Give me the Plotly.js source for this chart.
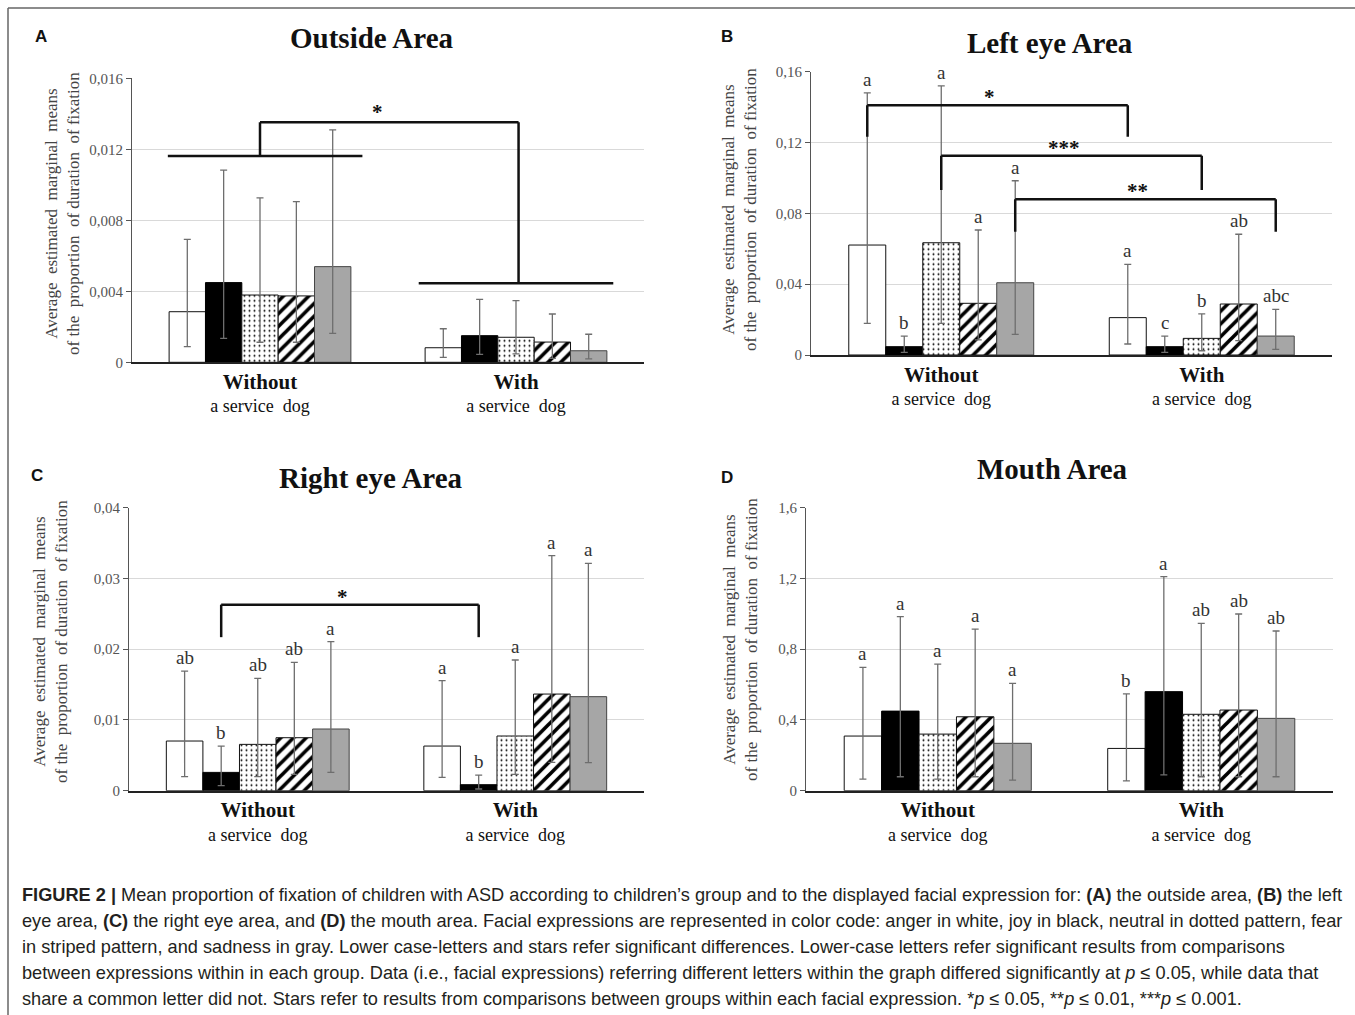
<!DOCTYPE html>
<html><head><meta charset="utf-8">
<script src="https://cdn.plot.ly/plotly-3.0.1.min.js"></script>
<style>html,body{margin:0;padding:0;background:#fff}#chart{width:1355px;height:1015px}</style>
</head><body><div id="chart"></div>
<script>
// ---------- DATA ----------
const groupLabels = ['<b><span style="font-size:21px">Without</span></b><br>a service\u00a0 dog', '<b><span style="font-size:21px">With</span></b><br>a service\u00a0 dog'];
const expressions = ['Anger', 'Joy', 'Neutral', 'Fear', 'Sadness'];

// each row: one expression, [without, with]
const outsideMean  = [[0.00285,0.00082],[0.00449,0.00150],[0.00379,0.00141],[0.00374,0.00114],[0.00539,0.00065]];
const outsideUpper = [[0.00693,0.00189],[0.01083,0.00355],[0.00926,0.00347],[0.00905,0.00272],[0.01309,0.00158]];
const outsideLower = [[0.00088,0.00028],[0.00135,0.00045],[0.00113,0.00047],[0.00113,0.00022],[0.00163,0.00019]];

const leftMean  = [[0.0621,0.0211],[0.0047,0.0047],[0.0634,0.0094],[0.0292,0.0288],[0.0408,0.0107]];
const leftUpper = [[0.148,0.0512],[0.0107,0.0107],[0.152,0.0232],[0.0706,0.0682],[0.0984,0.0258]];
const leftLower = [[0.0179,0.0062],[0.0015,0.0015],[0.0179,0.0024],[0.0085,0.0081],[0.0117,0.0032]];
const leftLetters = [['a','a'],['b','c'],['a','b'],['a','ab'],['a','abc']];

const rightMean  = [[0.00702,0.00631],[0.00259,0.00085],[0.00655,0.00773],[0.00749,0.01366],[0.00872,0.01329]];
const rightUpper = [[0.01691,0.01555],[0.00631,0.00221],[0.01588,0.01847],[0.01814,0.03322],[0.02106,0.03213]];
const rightLower = [[0.00198,0.00188],[0.00071,0.00024],[0.00198,0.00231],[0.00231,0.00400],[0.00259,0.00396]];
const rightLetters = [['ab','a'],['b','b'],['ab','a'],['ab','a'],['a','a']];

const mouthMean  = [[0.309,0.239],[0.450,0.560],[0.320,0.432],[0.418,0.456],[0.268,0.409]];
const mouthUpper = [[0.697,0.547],[0.984,1.210],[0.716,0.946],[0.914,0.999],[0.607,0.903]];
const mouthLower = [[0.066,0.055],[0.079,0.089],[0.066,0.079],[0.079,0.079],[0.060,0.079]];
const mouthLetters = [['a','b'],['a','a'],['a','ab'],['a','ab'],['a','ab']];

// significance brackets: [stars, from expression index, to expression index, bottom, top]
const leftBrackets  = [['*', 0, 0, 0.1233, 0.141], ['***', 2, 2, 0.0932, 0.1126], ['**', 4, 4, 0.0696, 0.0879]];
const rightBrackets = [['*', 1, 1, 0.0217, 0.0263]];
// outside area: group-level comparison [stars, withoutLevel, top, withLevel]
const outsideGroupBracket = ['*', 0.01162, 0.01352, 0.00445];

const yTicksOutside = [0, 0.004, 0.008, 0.012, 0.016];
const yTicksLeft = [0, 0.04, 0.08, 0.12, 0.16];
const yTicksRight = [0, 0.01, 0.02, 0.03, 0.04];
const yTicksMouth = [0, 0.4, 0.8, 1.2, 1.6];

const panelTitles = ['Outside Area', 'Left eye Area', 'Right eye Area', 'Mouth Area'];
const panelLetters = ['A', 'B', 'C', 'D'];
const yTitle = 'Average\u00a0 estimated\u00a0 marginal\u00a0 means<br>of the\u00a0 proportion\u00a0 of duration\u00a0 of fixation';

const captionLines = [
  '<b>FIGURE 2 |</b> Mean proportion of fixation of children with ASD according to children’s group and to the displayed facial expression for: <b>(A)</b> the outside area, <b>(B)</b> the left',
  'eye area, <b>(C)</b> the right eye area, and <b>(D)</b> the mouth area. Facial expressions are represented in color code: anger in white, joy in black, neutral in dotted pattern, fear',
  'in striped pattern, and sadness in gray. Lower case-letters and stars refer significant differences. Lower-case letters refer significant results from comparisons',
  'between expressions within in each group. Data (i.e., facial expressions) referring different letters within the graph differed significantly at <i>p</i> ≤ 0.05, while data that',
  'share a common letter did not. Stars refer to results from comparisons between groups within each facial expression. *<i>p</i> ≤ 0.05, **<i>p</i> ≤ 0.01, ***<i>p</i> ≤ 0.001.'
];

// ---------- LAYOUT GEOMETRY (pixels) ----------
const W = 1355, H = 1015;
const px = v => v / W, py = v => 1 - v / H;
const panels = [
  {x0: 132, x1: 644, yTop: 78.3, yBot: 362.3, mean: outsideMean, up: outsideUpper, low: outsideLower, letters: null, ticks: yTicksOutside,
   title: [371, 38], label: [41, 36], ytitle: [62, 214]},
  {x0: 811, x1: 1332, yTop: 71.7, yBot: 355, mean: leftMean, up: leftUpper, low: leftLower, letters: leftLetters, ticks: yTicksLeft,
   title: [1050, 43], label: [727, 36], ytitle: [740, 210]},
  {x0: 129, x1: 644, yTop: 507.7, yBot: 790.7, mean: rightMean, up: rightUpper, low: rightLower, letters: rightLetters, ticks: yTicksRight,
   title: [371, 478], label: [37, 475], ytitle: [50, 642]},
  {x0: 806, x1: 1333, yTop: 507.7, yBot: 790.7, mean: mouthMean, up: mouthUpper, low: mouthLower, letters: mouthLetters, ticks: yTicksMouth,
   title: [1052, 469], label: [727, 478], ytitle: [740, 640]}
];

const fills = [
  {color: '#ffffff', line: '#111', pattern: {shape: ''}},
  {color: '#000000', line: '#000', pattern: {shape: ''}},
  {color: '#ffffff', line: '#111', pattern: {shape: '.', fgcolor: '#000', bgcolor: '#fff', size: 5, solidity: 0.12}},
  {color: '#ffffff', line: '#111', pattern: {shape: '/', fgcolor: '#000', bgcolor: '#fff', size: 9, solidity: 0.4}},
  {color: '#a6a6a6', line: '#444', pattern: {shape: ''}}
];
const BARGAP = 0.29;
const slot = (1 - BARGAP) / 5;
const offset = i => (i - 2) * slot;

const serif = 'Liberation Serif, Times New Roman, serif';
const traces = [], shapes = [], annotations = [];
const layout = {
  width: W, height: H, margin: {l: 0, r: 0, t: 0, b: 0},
  paper_bgcolor: '#fff', plot_bgcolor: '#fff',
  separators: ',.', barmode: 'group', bargap: BARGAP, bargroupgap: 0,
  showlegend: false, font: {family: serif, color: '#222'}
};

panels.forEach((p, k) => {
  const n = k + 1;
  const xa = 'x' + (n === 1 ? '' : n), ya = 'y' + (n === 1 ? '' : n);
  const xkey = 'xaxis' + (n === 1 ? '' : n), ykey = 'yaxis' + (n === 1 ? '' : n);
  layout[xkey] = {
    domain: [px(p.x0), px(p.x1)], anchor: ya, type: 'category',
    categoryorder: 'array', categoryarray: groupLabels, range: [-0.5, 1.5],
    showline: true, linecolor: '#222', linewidth: 2, ticks: '', showgrid: false,
    tickfont: {family: serif, size: 18, color: '#111'}, ticklabelstandoff: 3
  };
  layout[ykey] = {
    domain: [py(p.yBot), py(p.yTop)], anchor: xa,
    range: [0, p.ticks[p.ticks.length - 1]], tickvals: p.ticks,
    showline: true, linecolor: '#555', linewidth: 1, ticks: 'outside', ticklen: 5, tickcolor: '#555',
    showgrid: true, gridcolor: '#d9d9d9', gridwidth: 1, zeroline: false,
    tickfont: {family: serif, size: 15, color: '#555'}
  };
  expressions.forEach((e, i) => {
    const m = p.mean[i];
    traces.push({
      type: 'bar', name: e, x: groupLabels, y: m, xaxis: xa, yaxis: ya,
      marker: {color: fills[i].color, line: {color: fills[i].line, width: 1}, pattern: fills[i].pattern},
      error_y: {type: 'data', symmetric: false,
        array: m.map((v, j) => p.up[i][j] - v), arrayminus: m.map((v, j) => v - p.low[i][j]),
        color: '#6e6e6e', thickness: 1.3, width: 3.5},
      hoverinfo: 'skip'
    });
    if (p.letters) {
      p.letters[i].forEach((t, j) => {
        annotations.push({xref: xa, yref: ya, x: j + offset(i), y: p.up[i][j], text: t,
          showarrow: false, yanchor: 'bottom', yshift: 1, font: {family: serif, size: 19, color: '#333'}});
      });
    }
  });
  annotations.push({xref: 'paper', yref: 'paper', x: px(p.title[0]), y: py(p.title[1]), text: '<b>' + panelTitles[k] + '</b>',
    showarrow: false, xanchor: 'center', yanchor: 'middle', font: {family: serif, size: 29, color: '#111'}});
  annotations.push({xref: 'paper', yref: 'paper', x: px(p.label[0]), y: py(p.label[1]), text: '<b>' + panelLetters[k] + '</b>',
    showarrow: false, xanchor: 'center', yanchor: 'middle', font: {family: 'Liberation Sans, Arial, sans-serif', size: 17, color: '#111'}});
  annotations.push({xref: 'paper', yref: 'paper', x: px(p.ytitle[0]), y: py(p.ytitle[1]), text: yTitle, textangle: -90,
    showarrow: false, xanchor: 'center', yanchor: 'middle', font: {family: serif, size: 17, color: '#444'}});
});

const ln = (xr, yr, x0, y0, x1, y1) => shapes.push({type: 'line', xref: xr, yref: yr, x0, y0, x1, y1, line: {color: '#111', width: 2.5}});
function bracket(xr, yr, b) {
  const xl = offset(b[1]), xrr = 1 + offset(b[2]);
  ln(xr, yr, xl, b[3], xl, b[4]); ln(xr, yr, xl, b[4], xrr, b[4]); ln(xr, yr, xrr, b[4], xrr, b[3]);
  annotations.push({xref: xr, yref: yr, x: (xl + xrr) / 2 - 0.03, y: b[4], text: '<b>' + b[0] + '</b>', showarrow: false,
    yanchor: 'bottom', yshift: -6, font: {family: serif, size: 21, color: '#111'}});
}
leftBrackets.forEach(b => bracket('x2', 'y2', b));
rightBrackets.forEach(b => bracket('x3', 'y3', b));
{
  const g = outsideGroupBracket;
  ln('x', 'y', -0.36, g[1], 0.4, g[1]);
  ln('x', 'y', 0, g[1], 0, g[2]);
  ln('x', 'y', 0, g[2], 1.01, g[2]);
  ln('x', 'y', 1.01, g[2], 1.01, g[3]);
  ln('x', 'y', 0.62, g[3], 1.38, g[3]);
  annotations.push({xref: 'x', yref: 'y', x: 0.46, y: g[2], text: '<b>' + g[0] + '</b>', showarrow: false,
    yanchor: 'bottom', yshift: -4, font: {family: serif, size: 21, color: '#111'}});
}

// frame
shapes.push({type: 'line', xref: 'paper', yref: 'paper', x0: px(8), y0: py(8), x1: 1, y1: py(8), line: {color: '#666', width: 1.5}});
shapes.push({type: 'line', xref: 'paper', yref: 'paper', x0: px(8), y0: py(8), x1: px(8), y1: 0, line: {color: '#666', width: 1.5}});

captionLines.forEach((t, i) => {
  annotations.push({xref: 'paper', yref: 'paper', x: px(20), y: py(895 + i * 26), text: t, showarrow: false,
    xanchor: 'left', yanchor: 'middle', align: 'left', font: {family: 'Liberation Sans, Arial, sans-serif', size: 18.2, color: '#231f20'}});
});

layout.shapes = shapes;
layout.annotations = annotations;
Plotly.newPlot('chart', traces, layout, {staticPlot: true, displayModeBar: false});
</script>
</body></html>
